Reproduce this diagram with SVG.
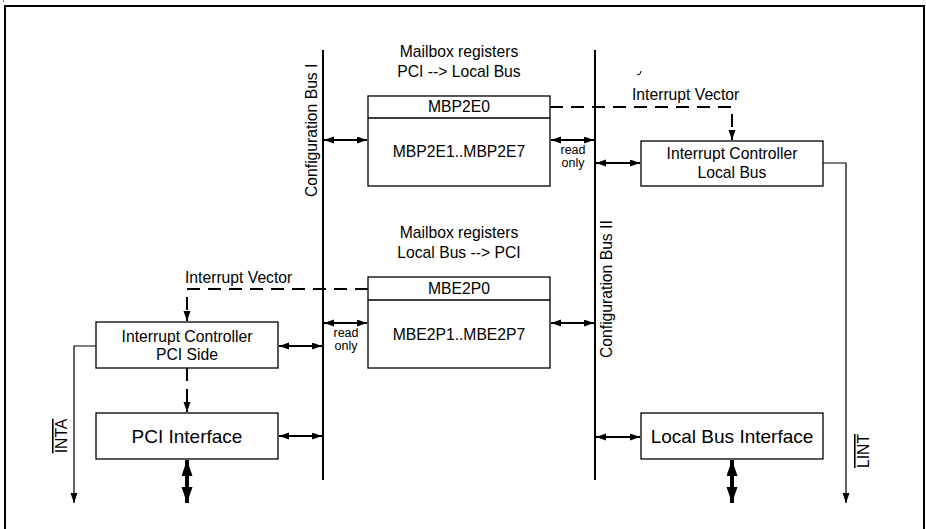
<svg xmlns="http://www.w3.org/2000/svg" width="926" height="529" viewBox="0 0 926 529">
<style>
text{font-family:"Liberation Sans",Arial,sans-serif;fill:#000}
.t{font-size:15.7px}
.s{font-size:12.5px}
.b{font-size:19px}
.c{text-anchor:middle}
.box{fill:#fff;stroke:#000;stroke-width:1.3}
.bus{stroke:#000;stroke-width:2;fill:none}
.ln{stroke:#000;stroke-width:2;fill:none}
.thin{stroke:#000;stroke-width:1.2;fill:none}
.dash{stroke:#000;stroke-width:2;fill:none;stroke-dasharray:13 8}
.thick{stroke:#000;stroke-width:4;fill:none}
</style>
<defs>
<marker id="a" markerUnits="userSpaceOnUse" markerWidth="11" markerHeight="8" refX="10" refY="3.5" orient="auto-start-reverse" viewBox="0 0 11 8">
<path d="M0,0 L10,3.5 L0,7 z" fill="#000"/>
</marker>
<marker id="A" markerUnits="userSpaceOnUse" markerWidth="18" markerHeight="12" refX="16" refY="5.5" orient="auto-start-reverse" viewBox="0 0 18 12">
<path d="M0,0 L16,5.5 L0,11 z" fill="#000"/>
</marker>
</defs>
<rect x="5" y="6" width="919" height="560" fill="none" stroke="#000" stroke-width="2"/>
<rect x="3" y="0" width="1" height="2" fill="#888"/>
<path d="M637,75 Q641,75 641,71" fill="none" stroke="#000" stroke-width="1"/>

<g id="bus1">
<line class="bus" x1="323" y1="50" x2="323" y2="480"/>
<text class="t" transform="translate(316.5,197) rotate(-90)">Configuration Bus I</text>
</g>
<g id="bus2">
<line class="bus" x1="595" y1="50" x2="595" y2="480"/>
<text class="t" transform="translate(612,358) rotate(-90)">Configuration Bus II</text>
</g>

<g id="mbp2e">
<text class="t c" x="459" y="57">Mailbox registers</text>
<text class="t c" x="459" y="77">PCI --&gt; Local Bus</text>
<rect class="box" x="368" y="96" width="182" height="90"/>
<line class="box" x1="368" y1="118" x2="550" y2="118"/>
<text class="t c" x="459" y="112">MBP2E0</text>
<text class="t c" x="459" y="157">MBP2E1..MBP2E7</text>
</g>

<g id="mbe2p">
<text class="t c" x="459" y="238">Mailbox registers</text>
<text class="t c" x="459" y="258">Local Bus --&gt; PCI</text>
<rect class="box" x="368" y="277" width="182" height="91"/>
<line class="box" x1="368" y1="300" x2="550" y2="300"/>
<text class="t c" x="459" y="294">MBE2P0</text>
<text class="t c" x="459" y="340">MBE2P1..MBE2P7</text>
</g>

<g id="iclb">
<rect class="box" x="641" y="141" width="182" height="45"/>
<text class="t c" x="732" y="159">Interrupt Controller</text>
<text class="t c" x="732" y="178">Local Bus</text>
</g>

<g id="icpci">
<rect class="box" x="96" y="322" width="182" height="46"/>
<text class="t c" x="187" y="342">Interrupt Controller</text>
<text class="t c" x="187" y="360">PCI Side</text>
</g>

<g id="pciif">
<rect class="box" x="96" y="413" width="182" height="46"/>
<text class="b c" x="187" y="443">PCI Interface</text>
</g>

<g id="lbif">
<rect class="box" x="641" y="413" width="182" height="46"/>
<text class="b c" x="732" y="443">Local Bus Interface</text>
</g>

<g id="connectors">
<line class="ln" x1="324" y1="140" x2="367" y2="140" marker-start="url(#a)" marker-end="url(#a)"/>
<line class="ln" x1="551" y1="140" x2="594" y2="140" marker-start="url(#a)" marker-end="url(#a)"/>
<text class="s c" x="573" y="154">read</text>
<text class="s c" x="573" y="167">only</text>
<line class="ln" x1="596" y1="163" x2="640" y2="163" marker-start="url(#a)" marker-end="url(#a)"/>
<path class="dash" d="M550,107 H732 V140" marker-end="url(#a)"/>
<text class="t" x="632" y="100">Interrupt Vector</text>
<path class="thin" d="M823,163 H846 V503" marker-end="url(#a)"/>
<text class="t c" transform="translate(869,451) rotate(-90)" text-decoration="overline">LINT</text>

<line class="ln" x1="324" y1="323" x2="367" y2="323" marker-start="url(#a)" marker-end="url(#a)"/>
<text class="s c" x="346" y="337">read</text>
<text class="s c" x="346" y="350">only</text>
<line class="ln" x1="551" y1="323" x2="594" y2="323" marker-start="url(#a)" marker-end="url(#a)"/>
<path class="dash" d="M368,289 H187 V321" marker-end="url(#a)"/>
<text class="t" x="185" y="283">Interrupt Vector</text>
<line class="ln" x1="279" y1="346" x2="322" y2="346" marker-start="url(#a)" marker-end="url(#a)"/>
<line class="dash" x1="187" y1="368" x2="187" y2="412" marker-end="url(#a)"/>
<path class="thin" d="M96,346 H74 V503" marker-end="url(#a)"/>
<text class="t c" transform="translate(67,436) rotate(-90)" text-decoration="overline">INTA</text>
<line class="ln" x1="279" y1="436" x2="322" y2="436" marker-start="url(#a)" marker-end="url(#a)"/>
<line class="thick" x1="187" y1="460" x2="187" y2="503" marker-start="url(#A)" marker-end="url(#A)"/>
<line class="ln" x1="596" y1="437" x2="640" y2="437" marker-start="url(#a)" marker-end="url(#a)"/>
<line class="thick" x1="732" y1="460" x2="732" y2="503" marker-start="url(#A)" marker-end="url(#A)"/>
</g>
</svg>
